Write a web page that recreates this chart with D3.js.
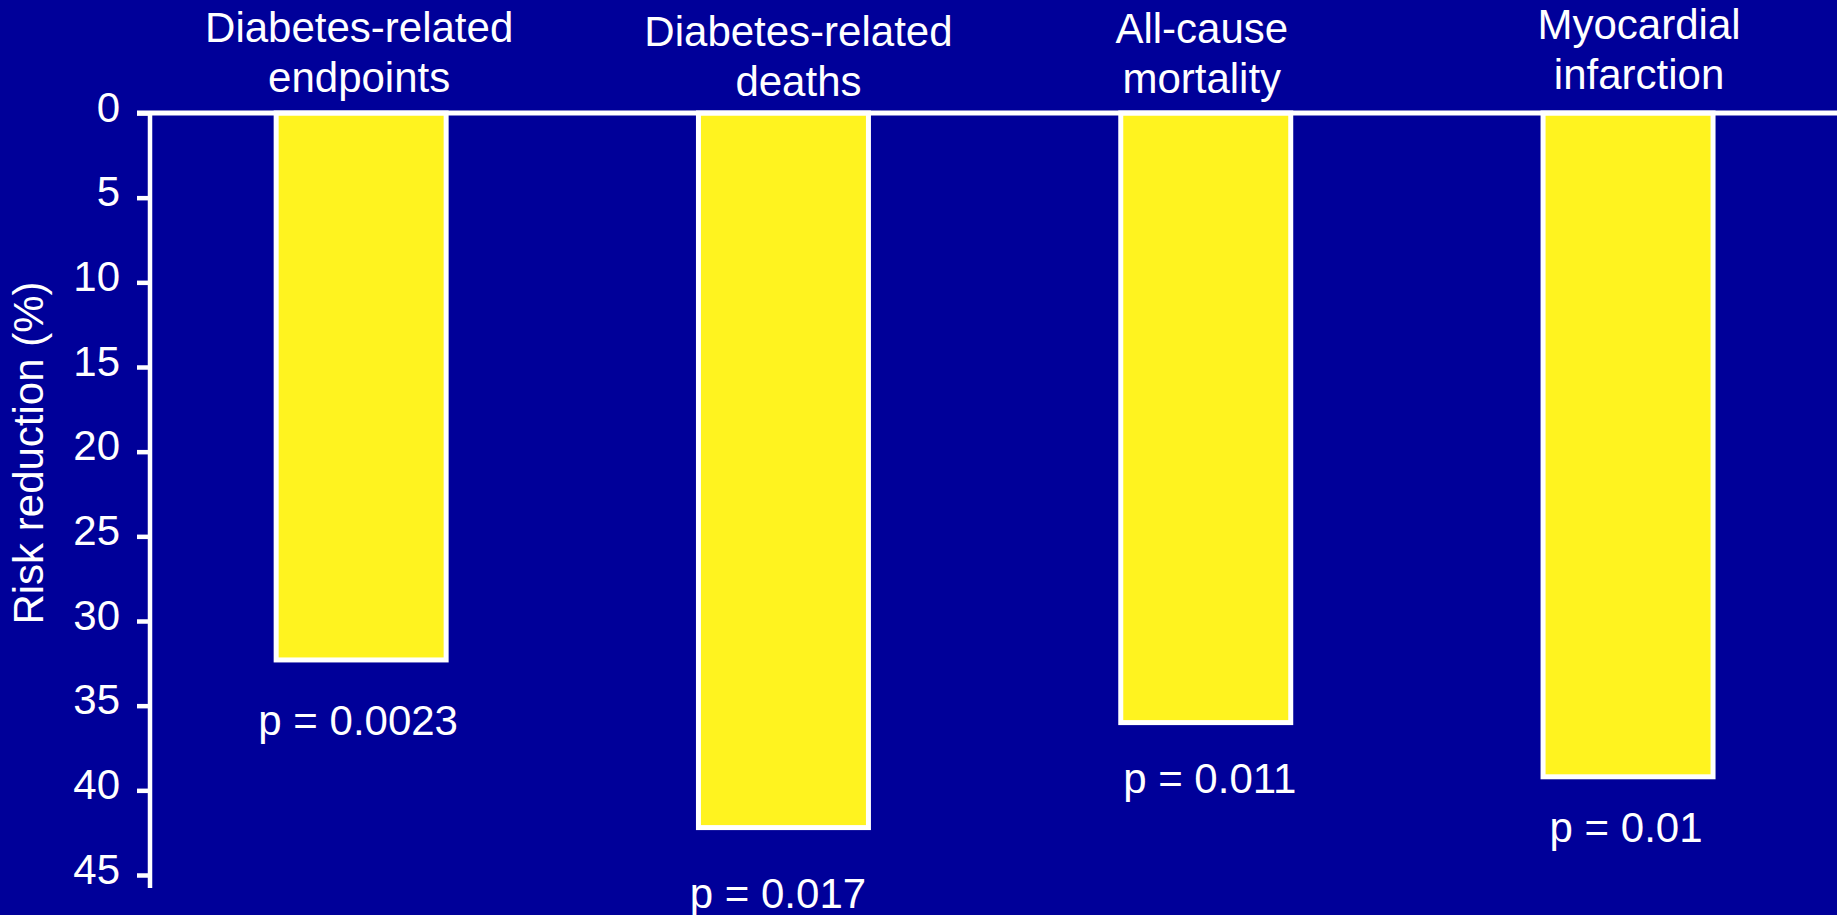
<!DOCTYPE html>
<html>
<head>
<meta charset="utf-8">
<script src="https://cdn.jsdelivr.net/npm/d3@7/dist/d3.min.js"></script>
<style>
  html, body { margin: 0; padding: 0; background: #000099; overflow: hidden; }
  svg { display: block; }
  text { font-family: "Liberation Sans", Arial, Helvetica, sans-serif; fill: #ffffff; }
</style>
</head>
<body>
<svg id="chart" width="1837" height="915"></svg>
<script>
// Outcome categories (two-line headings) and risk reduction (%)
const categories = [
  ["Diabetes-related", "endpoints"],
  ["Diabetes-related", "deaths"],
  ["All-cause", "mortality"],
  ["Myocardial", "infarction"]
];
const riskReduction = [32.3, 42.2, 36, 39.2];
const pValues = ["p = 0.0023", "p = 0.017", "p = 0.011", "p = 0.01"];
const yTicks = [0, 5, 10, 15, 20, 25, 30, 35, 40, 45];
const yTitle = "Risk reduction (%)";

// Hand-placed label nudges (px) for headings and p-value captions
const headDx = [-2, 15, -4, 11];
const headBaseline = [42, 46, 42.5, 39];
const pDx = [-3, -5.5, 4, -2];
const pDy = [75, 80, 70, 65];

const FONT = "42px";
const W = 1837, H = 915;
const axisX = 150;
const svg = d3.select("#chart");

const y = d3.scaleLinear().domain([0, 45]).range([113, 875]);
const x = d3.scaleBand()
  .domain(d3.range(categories.length))
  .range([axisX, axisX + 4 * 422.3])
  .paddingInner(0.5975)
  .paddingOuter(0.29875);

// Bars hang down from the zero line
svg.append("g").selectAll("rect")
  .data(riskReduction)
  .join("rect")
  .attr("x", (d, i) => x(i))
  .attr("y", y(0))
  .attr("width", x.bandwidth())
  .attr("height", d => y(d) - y(0))
  .attr("fill", "#fff31f")
  .attr("stroke", "#ffffff")
  .attr("stroke-width", 5);

// Zero line across the chart
svg.append("line")
  .attr("x1", axisX - 13).attr("x2", W)
  .attr("y1", y(0)).attr("y2", y(0))
  .attr("stroke", "#ffffff").attr("stroke-width", 5);

// Left axis
const yAxis = d3.axisLeft(y).tickValues(yTicks).tickSize(13).tickPadding(0).tickFormat(d3.format("d"));
const gy = svg.append("g").attr("transform", `translate(${axisX},0)`).call(yAxis);
gy.select(".domain").remove();
gy.append("line")
  .attr("x1", 0).attr("x2", 0)
  .attr("y1", y(0) - 2).attr("y2", 888)
  .attr("stroke", "#ffffff").attr("stroke-width", 4.5);
gy.selectAll(".tick line").attr("stroke", "#ffffff").attr("stroke-width", 4.5);
gy.selectAll(".tick text")
  .attr("x", -30)
  .attr("dy", null)
  .attr("y", 8)
  .attr("fill", "#ffffff")
  .style("font-size", FONT)
  .style("font-family", "'Liberation Sans', Arial, sans-serif");

// Axis title
svg.append("text")
  .attr("transform", `translate(43,453) rotate(-90)`)
  .attr("text-anchor", "middle")
  .style("font-size", FONT)
  .text(yTitle);

// Category headings
const heads = svg.append("g").selectAll("text")
  .data(categories)
  .join("text")
  .attr("text-anchor", "middle")
  .style("font-size", FONT)
  .attr("x", (d, i) => x(i) + x.bandwidth() / 2 + headDx[i])
  .attr("y", (d, i) => headBaseline[i]);
heads.selectAll("tspan")
  .data(d => d)
  .join("tspan")
  .attr("x", function () { return d3.select(this.parentNode).attr("x"); })
  .attr("dy", (d, j) => j === 0 ? 0 : 50)
  .text(d => d);

// p-value captions under each bar
svg.append("g").selectAll("text")
  .data(pValues)
  .join("text")
  .attr("text-anchor", "middle")
  .style("font-size", FONT)
  .attr("x", (d, i) => x(i) + x.bandwidth() / 2 + pDx[i])
  .attr("y", (d, i) => y(riskReduction[i]) + pDy[i])
  .text(d => d);
</script>
</body>
</html>
